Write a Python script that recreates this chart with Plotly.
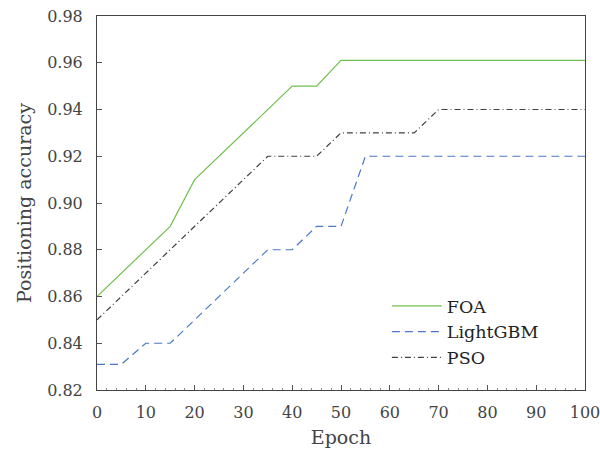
import plotly.graph_objects as go

epochs = [0, 5, 10, 15, 20, 25, 30, 35, 40, 45, 50, 55, 60, 65, 70, 75, 80, 85, 90, 95, 100]
foa = [0.86, 0.87, 0.88, 0.89, 0.91, 0.92, 0.93, 0.94, 0.95, 0.95, 0.961, 0.961, 0.961, 0.961, 0.961, 0.961, 0.961, 0.961, 0.961, 0.961, 0.961]
lightgbm = [0.831, 0.831, 0.84, 0.84, 0.85, 0.86, 0.87, 0.88, 0.88, 0.89, 0.89, 0.92, 0.92, 0.92, 0.92, 0.92, 0.92, 0.92, 0.92, 0.92, 0.92]
pso = [0.85, 0.86, 0.87, 0.88, 0.89, 0.90, 0.91, 0.92, 0.92, 0.92, 0.93, 0.93, 0.93, 0.93, 0.94, 0.94, 0.94, 0.94, 0.94, 0.94, 0.94]
x_ticks = [0, 10, 20, 30, 40, 50, 60, 70, 80, 90, 100]
y_ticks = [0.82, 0.84, 0.86, 0.88, 0.90, 0.92, 0.94, 0.96, 0.98]

font = "DejaVu Serif, Liberation Serif, serif"
fig = go.Figure()
fig.add_trace(go.Scatter(x=epochs, y=foa, mode="lines", name="FOA",
                         line=dict(color="#70c050", width=1.2)))
fig.add_trace(go.Scatter(x=epochs, y=lightgbm, mode="lines", name="LightGBM",
                         line=dict(color="#4a78c8", width=1.2, dash="8px,5px")))
fig.add_trace(go.Scatter(x=epochs, y=pso, mode="lines", name="PSO",
                         line=dict(color="#404040", width=1.2, dash="6px,3px,1px,3px")))

fig.update_layout(
    width=600, height=450,
    margin=dict(l=97, r=15, t=16, b=60),
    paper_bgcolor="white", plot_bgcolor="white",
    font=dict(family=font, size=16, color="#444444"),
    showlegend=True,
    legend=dict(x=0.594, y=0.155, xanchor="left", yanchor="middle",
                bgcolor="rgba(0,0,0,0)", font=dict(size=17.5, color="#222222"),
                tracegroupgap=0, itemwidth=50),
    xaxis=dict(range=[0, 100], tickvals=x_ticks, ticks="inside", ticklen=5,
               tickcolor="#555555", showgrid=False, zeroline=False, automargin=False,
               ticklabelstandoff=8, ticklabeloverflow="allow",
               showline=True, linecolor="#444444", linewidth=1, mirror=True,
               minor=dict(dtick=2, ticks="inside", ticklen=2, tickcolor="#888888"),
               title=dict(text="Epoch", standoff=9, font=dict(size=19))),
    yaxis=dict(range=[0.82, 0.98], tickvals=y_ticks, tickformat=".2f",
               ticks="inside", ticklen=5, tickcolor="#555555", automargin=False,
               ticklabelstandoff=10, ticklabeloverflow="allow",
               showgrid=False, zeroline=False,
               showline=True, linecolor="#444444", linewidth=1, mirror=True,
               title=dict(text="Positioning accuracy", standoff=10, font=dict(size=19))),
)
fig.write_html("out.html", config={"displayModeBar": False},
               post_script="document.body.style.margin='0';document.body.style.overflow='hidden';")
